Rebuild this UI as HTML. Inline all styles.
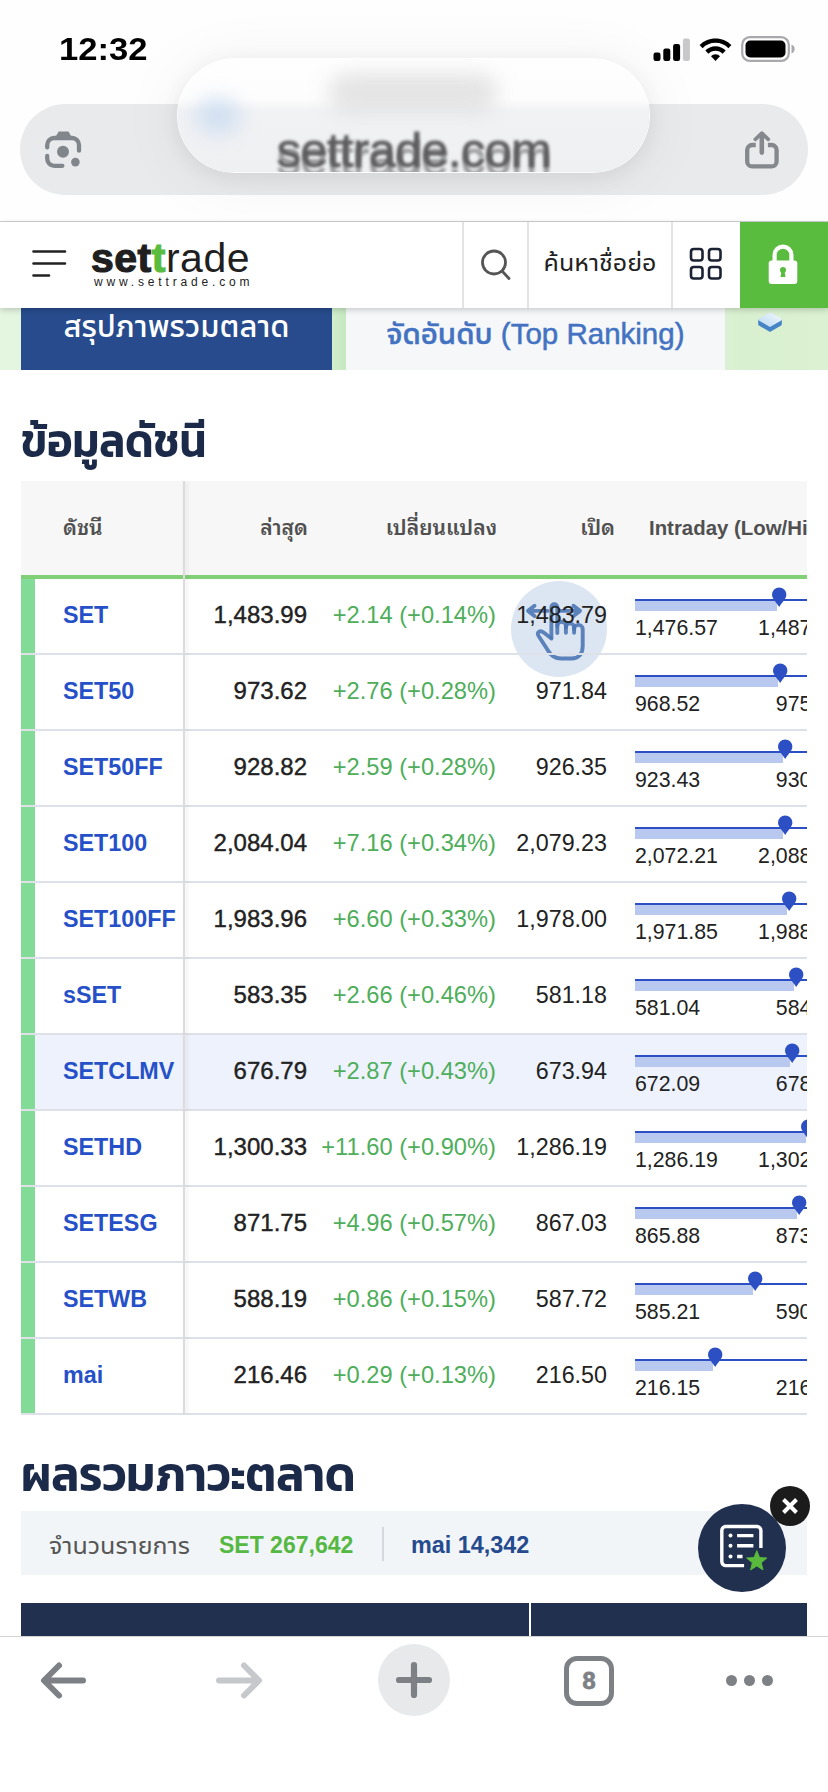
<!DOCTYPE html>
<html lang="th">
<head>
<meta charset="utf-8">
<title>settrade</title>
<style>
html,body{margin:0;padding:0;}
body{width:828px;height:1792px;overflow:hidden;position:relative;background:#fff;
 font-family:"Liberation Sans","Noto Sans Thai","Sarabun","Loma",sans-serif;color:#222;}
.abs{position:absolute;}
.th{font-family:"Liberation Sans","Noto Sans Thai UI","Noto Sans Thai","Sarabun","Loma",sans-serif;}
.thl{font-family:"Liberation Sans","Noto Sans Thai Looped","Sarabun","Noto Sans Thai","Loma",sans-serif;}
.thh{font-family:"Liberation Sans","Kanit","Prompt","Noto Sans Thai","Loma",sans-serif;}
/* ---------- browser chrome top ---------- */
#chrome-top{left:0;top:0;width:828px;height:221px;background:#fefefe;border-bottom:1px solid #cfcfd2;}
#time{left:59px;top:31px;font-size:30.5px;font-weight:700;color:#000;line-height:36px;transform:scaleX(1.135);transform-origin:0 50%;white-space:nowrap;}
#urlbar{left:20px;top:104px;width:788px;height:91px;border-radius:46px;background:#e9eaec;}
#glass{left:178px;top:59px;width:471px;height:113px;border-radius:57px;overflow:hidden;
 background:linear-gradient(#fefefe 0,#fdfdfd 40px,#f1f2f4 52px,#eff0f2 100%);
 box-shadow:0 0 0 1px rgba(255,255,255,.9),0 4px 22px rgba(0,0,0,.075),0 6px 60px 10px rgba(0,0,0,.045);}
/* ---------- site header ---------- */
#hdr{left:0;top:222px;width:828px;height:86px;background:#fff;box-shadow:0 2px 6px rgba(0,0,0,.18);z-index:5;}
.vdiv{top:0;width:2px;height:86px;background:#e3e3e3;}
#lockbox{left:740px;top:0;width:88px;height:86px;background:#5abc3e;}

.gt{left:0;width:472px;text-align:center;font-size:48.500px;line-height:56px;color:#5d5d5f;filter:blur(1.600px);letter-spacing:-0.500px;-webkit-text-stroke:1px #5d5d5f;}
#logo{left:91px;top:8px;font-size:41px;line-height:56px;color:#1f1f1f;letter-spacing:0.500px;white-space:nowrap;}
#logo b{font-weight:700;-webkit-text-stroke:1.200px #1f1f1f;}
#logo b.g{color:#5abc3e;-webkit-text-stroke:1.200px #5abc3e;}
#logosub{left:94px;top:53px;font-size:12px;line-height:14px;letter-spacing:3.830px;color:#222;white-space:nowrap;}
#srch{left:529px;top:0;width:142px;text-align:center;font-size:25px;line-height:80px;color:#222;white-space:nowrap;overflow:hidden;}
/* ---------- tabs band ---------- */
#band{left:0;top:308px;width:828px;height:62px;background:linear-gradient(90deg,#e4f5e0 0,#e0f3da 700px,#d9f0d0 740px,#dbf1d2 100%);}
#tab1{left:21px;top:0;width:311px;height:62px;background:#274b8c;color:#fff;font-size:31px;font-weight:500;text-align:center;line-height:38px;white-space:nowrap;overflow:hidden;}
#tab2{left:346px;top:0;width:379px;height:62px;background:#f5f7f8;color:#4272c1;font-size:29.500px;font-weight:500;-webkit-text-stroke:.500px #4272c1;text-align:center;line-height:52px;white-space:nowrap;overflow:hidden;}
/* ---------- headings ---------- */
.h2{left:21px;font-size:46px;font-weight:600;color:#1c2a4a;white-space:nowrap;line-height:56px;}
/* ---------- table ---------- */
#tbl{left:21px;top:481px;width:786px;height:934px;overflow:hidden;}
#thead{left:0;top:0;width:786px;height:94px;background:#f7f7f7;}
#thead div{position:absolute;top:0;line-height:94px;font-size:21px;font-weight:600;color:#505050;white-space:nowrap;}
#gline{left:0;top:94px;width:786px;height:4px;background:#81d078;}
.row{position:absolute;left:0;width:786px;height:76px;border-bottom:2px solid #dfe1e8;box-sizing:border-box;background:transparent;}
.row.hl{background:#edf2fc;}
.row .gs{position:absolute;left:0;top:0;width:14px;height:74px;background:#82dc98;}
.row .nm{position:absolute;left:42px;top:0;line-height:72px;font-size:23.300px;font-weight:700;color:#2650c8;white-space:nowrap;}
.row .last{position:absolute;right:500px;top:0;line-height:72px;font-size:24px;color:#222;white-space:nowrap;-webkit-text-stroke:.4px #222;}
.row .chg{position:absolute;right:311px;top:0;line-height:72px;font-size:23.700px;color:#4eae5b;white-space:nowrap;}
.row .opn{position:absolute;right:200px;top:0;line-height:72px;font-size:23.300px;color:#222;white-space:nowrap;}
.row .intr{position:absolute;left:614px;top:0;width:206px;height:74px;}
.intr .ln{position:absolute;left:0;top:20px;width:206px;height:2px;background:#2c4fc4;}
.intr .bar{position:absolute;left:0;top:22px;height:10px;background:#b9c8ee;}
.intr .pin{position:absolute;top:8px;width:16.400px;height:20.500px;margin-left:-8.200px;}
.intr .lo{position:absolute;left:0;top:37px;font-size:21.300px;line-height:24px;color:#222;}
.intr .hi{position:absolute;right:0;top:37px;font-size:21.300px;line-height:24px;color:#222;}
#coldiv{left:162px;top:0;width:2px;height:934px;background:#dcdcdc;box-shadow:2px 0 4px rgba(0,0,0,.10);}
/* ---------- summary ---------- */
#sum{left:21px;top:1511px;width:786px;height:64px;background:#f2f5f8;}
#sum div{position:absolute;top:0;line-height:68px;white-space:nowrap;}
#navy{left:21px;top:1603px;width:786px;height:34px;background:#22304f;}

#fab{left:698px;top:1504px;width:88px;height:88px;border-radius:44px;background:#22304f;z-index:8;}
#fabx{left:770px;top:1486px;width:40px;height:40px;border-radius:20px;background:#1b1b1b;z-index:8;}
#touch{left:490px;top:100px;width:96px;height:96px;border-radius:48px;background:#dce5f2;}
/* ---------- bottom bar ---------- */
#bot{left:0;top:1636px;width:828px;height:156px;background:#fff;border-top:1px solid #d2d2d4;z-index:9;}
</style>
</head>
<body>
<div id="chrome-top" class="abs">
  <div id="time" class="abs">12:32</div>
  <!-- signal -->
  <svg class="abs" style="left:653px;top:36px" width="38" height="26" viewBox="0 0 38 26">
    <rect x="0.500" y="16.500" width="7" height="8.500" rx="2.200" fill="#000"/>
    <rect x="10.300" y="12.500" width="7" height="12.500" rx="2.200" fill="#000"/>
    <rect x="20.100" y="8" width="7" height="17" rx="2.200" fill="#000"/>
    <rect x="29.900" y="2.500" width="7" height="22.500" rx="2.200" fill="#c8c8cb"/>
  </svg>
  <!-- wifi -->
  <svg class="abs" style="left:699px;top:37px" width="33" height="25" viewBox="0 0 33 25">
    <path d="M16.500 1.500C10.200 1.500 4.600 4 0.600 8.100L3.600 11.200C6.900 7.800 11.400 5.800 16.500 5.800S26.100 7.800 29.400 11.200L32.400 8.100C28.400 4 22.800 1.500 16.500 1.500Z" fill="#000"/>
    <path d="M16.500 9.300C12.500 9.300 8.900 10.900 6.300 13.600L9.400 16.800C11.200 14.900 13.700 13.700 16.500 13.700S21.800 14.900 23.600 16.800L26.700 13.600C24.100 10.900 20.500 9.300 16.500 9.300Z" fill="#000"/>
    <path d="M16.500 17.200C14.700 17.200 13.100 17.900 12 19.200L16.500 23.900L21 19.200C19.900 17.900 18.300 17.200 16.500 17.200Z" fill="#000"/>
  </svg>
  <!-- battery -->
  <svg class="abs" style="left:741px;top:36px" width="56" height="26" viewBox="0 0 56 26">
    <rect x="1.200" y="1.200" width="46.600" height="23.600" rx="7.500" fill="none" stroke="#a9a9ad" stroke-width="2.200"/>
    <rect x="4.500" y="4.500" width="40" height="17" rx="4.800" fill="#000"/>
    <path d="M50.500 8.500v9c2-0.700 3.200-2.400 3.200-4.500s-1.200-3.800-3.200-4.500z" fill="#a9a9ad"/>
  </svg>
  <div id="urlbar" class="abs">
    <!-- lens icon -->
    <svg class="abs" style="left:20px;top:21px" width="50" height="50" viewBox="40 125 50 50" fill="none" stroke="#80868b" stroke-width="4.300" stroke-linecap="round" stroke-linejoin="round">
      <path d="M47.200 147.400V145a7 7 0 0 1 7-7H72a7 7 0 0 1 7 7v5.700"/>
      <path d="M56.400 136.800L59 132.300H68.200L70.600 136.800Z" fill="#80868b" stroke-width="1.400"/>
      <path d="M47.200 156v2.800a7 7 0 0 0 7 7h8.200"/>
      <circle cx="63" cy="151.700" r="6" fill="#80868b" stroke="none"/>
      <circle cx="75.400" cy="162.100" r="4.300" fill="#80868b" stroke="none"/>
    </svg>
    <!-- share icon -->
    <svg class="abs" style="left:720px;top:21px" width="50" height="50" viewBox="740 125 50 50" fill="none" stroke="#85888d" stroke-width="4.300" stroke-linejoin="round">
      <path d="M755.800 145H752.200a5 5 0 0 0-5 5V161.400a5 5 0 0 0 5 5H771.600a5 5 0 0 0 5-5V150a5 5 0 0 0-5-5H767.900"/>
      <path d="M761.800 134.500V152.600" stroke-width="4.600" stroke-linecap="round"/>
      <path d="M755.300 139.300L761.800 133.200L768.300 139.300" stroke-width="3.700" stroke-linecap="round"/>
    </svg>
  </div>
  <div id="glass" class="abs">
    <div class="abs" style="left:150px;top:14px;width:170px;height:40px;border-radius:20px;background:#dcdcdd;filter:blur(10px);opacity:.75"></div>
    <div class="abs" style="left:18px;top:40px;width:44px;height:34px;border-radius:20px;background:#c9dbf1;filter:blur(10px);opacity:.8;"></div>
    <div class="abs gt" style="top:63px;">settrade.com</div>
    <div class="abs gt" style="top:71px;opacity:.55">settrade.com</div>
  </div>
</div>
<div id="hdr" class="abs">
  <svg class="abs" style="left:32px;top:27px" width="36" height="30" viewBox="0 0 36 30" fill="none" stroke="#222" stroke-width="2.600" stroke-linecap="round">
    <path d="M1.500 2.500H33M1.500 14.500H33M1.500 26.500H17"/>
  </svg>
  <div id="logo" class="abs"><b>set</b><b class="g">t</b>rade</div>
  <div id="logosub" class="abs">www.settrade.com</div>
  <div class="abs vdiv" style="left:462px"></div>
  <svg class="abs" style="left:478px;top:25px" width="36" height="36" viewBox="0 0 36 36" fill="none" stroke="#555" stroke-width="2.800" stroke-linecap="round">
    <circle cx="16" cy="15.500" r="11.500"/><path d="M24.500 24.500L31 31.500"/>
  </svg>
  <div class="abs vdiv" style="left:527px"></div>
  <div id="srch" class="abs th">ค้นหาชื่อย่อ</div>
  <div class="abs vdiv" style="left:671px"></div>
  <svg class="abs" style="left:689px;top:25px" width="34" height="34" viewBox="0 0 34 34" fill="none" stroke="#1b2233" stroke-width="2.600">
    <rect x="2" y="2" width="11.500" height="11.500" rx="2.800"/><rect x="20" y="2" width="11.500" height="11.500" rx="2.800"/>
    <rect x="2" y="20" width="11.500" height="11.500" rx="2.800"/><rect x="20" y="20" width="11.500" height="11.500" rx="2.800"/>
  </svg>
  <div id="lockbox" class="abs">
    <svg class="abs" style="left:26px;top:20px" width="34" height="44" viewBox="0 0 34 44">
      <path d="M8.600 19V13a8.400 8.400 0 0 1 16.800 0V19" fill="none" stroke="#fff" stroke-width="4.200"/>
      <rect x="2.700" y="18.500" width="28.600" height="23.500" rx="3" fill="#fff"/>
      <circle cx="17" cy="28" r="3" fill="#5abc3e"/><path d="M15.500 29h3l1 6h-5z" fill="#5abc3e"/>
    </svg>
  </div>
</div>
<div id="band" class="abs">
  <div id="tab1" class="abs th">สรุปภาพรวมตลาด</div>
  <div class="abs" style="left:332px;top:0;width:14px;height:62px;background:linear-gradient(90deg,#d3eecd,#c4e8bf);"></div>
  <div id="tab2" class="abs th">จัดอันดับ (Top Ranking)</div>
  <svg class="abs" style="left:757px;top:3px" width="26" height="24" viewBox="0 0 26 24">
    <defs><linearGradient id="dg" x1="0" y1="1" x2="1" y2="0"><stop offset="0" stop-color="#b9d9f2"/><stop offset="1" stop-color="#f4f9fd"/></linearGradient></defs>
    <path d="M1.200 8.500L13 15.500L24.800 8.500V13.200a1.500 1.500 0 0 1-.7 1.200L13.800 20.600a1.600 1.600 0 0 1-1.600 0L1.900 14.400a1.500 1.500 0 0 1-.7-1.200Z" fill="#4584c6"/>
    <path d="M12.200 1.400a1.600 1.600 0 0 1 1.600 0L24.200 7.600a1 1 0 0 1 0 1.800L13.800 15.600a1.600 1.600 0 0 1-1.600 0L1.800 9.400a1 1 0 0 1 0-1.800Z" fill="url(#dg)"/>
  </svg>
</div>
<div class="abs h2 thh" style="top:413px;font-size:47.500px;transform:scaleX(.905);transform-origin:0 50%;">ข้อมูลดัชนี</div>
<div id="tbl" class="abs">
<div id="thead" class="abs thl"><div style="left:42px">ดัชนี</div><div style="right:499px">ล่าสุด</div><div style="right:310px">เปลี่ยนแปลง</div><div style="right:192px">เปิด</div><div style="left:628px;font-size:20.400px;">Intraday (Low/High)</div></div>
<div id="gline" class="abs"></div>
<div id="touch" class="abs">
  <svg class="abs" style="left:0;top:0" width="96" height="96" viewBox="0 0 96 96" fill="none" stroke="#4a74b3" stroke-opacity=".88" stroke-width="3.900" stroke-linecap="round" stroke-linejoin="round">
    <path d="M18 29.900H36.500M23.500 24.800L17 29.900L23.500 35"/>
    <path d="M50 29.900H68M62.500 24.800L69 29.900L62.500 35"/>
    <path d="M40.400 56.500V26.200a2.950 2.950 0 0 1 5.900 0V52"/>
    <path d="M46.300 45a4.300 4.300 0 0 1 8.600 0V51.800"/>
    <path d="M54.900 46.500a4.100 4.100 0 0 1 8.200 0V51.800"/>
    <path d="M63.100 48.200a4.300 4.300 0 0 1 8.600 0V65c0 8.500-4.500 12.500-11 12.500H50c-6 0-10-2.500-13-8L27.300 54.500c-1.600-3.400 2.200-5.600 5-3.300L40.400 57.500"/>
  </svg>
</div>
<div class="row" style="top:98px"><div class="gs"></div><div class="nm">SET</div><div class="last">1,483.99</div><div class="chg">+2.14 (+0.14%)</div><div class="opn">1,483.79</div><div class="intr"><div class="ln"></div><div class="bar" style="width:142px"></div><svg class="pin" style="left:144px" viewBox="0 0 16 20"><path d="M8 0.5a7 7 0 0 1 7 7c0 3.6-3.6 6.6-7 12c-3.400-5.400-7-8.400-7-12a7 7 0 0 1 7-7z" fill="#2c4fc4"/></svg><div class="lo">1,476.57</div><div class="hi">1,487.96</div></div></div>
<div class="row" style="top:174px"><div class="gs"></div><div class="nm">SET50</div><div class="last">973.62</div><div class="chg">+2.76 (+0.28%)</div><div class="opn">971.84</div><div class="intr"><div class="ln"></div><div class="bar" style="width:143px"></div><svg class="pin" style="left:145px" viewBox="0 0 16 20"><path d="M8 0.5a7 7 0 0 1 7 7c0 3.6-3.6 6.6-7 12c-3.400-5.400-7-8.400-7-12a7 7 0 0 1 7-7z" fill="#2c4fc4"/></svg><div class="lo">968.52</div><div class="hi">975.60</div></div></div>
<div class="row" style="top:250px"><div class="gs"></div><div class="nm">SET50FF</div><div class="last">928.82</div><div class="chg">+2.59 (+0.28%)</div><div class="opn">926.35</div><div class="intr"><div class="ln"></div><div class="bar" style="width:148px"></div><svg class="pin" style="left:150px" viewBox="0 0 16 20"><path d="M8 0.5a7 7 0 0 1 7 7c0 3.6-3.6 6.6-7 12c-3.400-5.400-7-8.400-7-12a7 7 0 0 1 7-7z" fill="#2c4fc4"/></svg><div class="lo">923.43</div><div class="hi">930.55</div></div></div>
<div class="row" style="top:326px"><div class="gs"></div><div class="nm">SET100</div><div class="last">2,084.04</div><div class="chg">+7.16 (+0.34%)</div><div class="opn">2,079.23</div><div class="intr"><div class="ln"></div><div class="bar" style="width:148px"></div><svg class="pin" style="left:150px" viewBox="0 0 16 20"><path d="M8 0.5a7 7 0 0 1 7 7c0 3.6-3.6 6.6-7 12c-3.400-5.400-7-8.400-7-12a7 7 0 0 1 7-7z" fill="#2c4fc4"/></svg><div class="lo">2,072.21</div><div class="hi">2,088.52</div></div></div>
<div class="row" style="top:402px"><div class="gs"></div><div class="nm">SET100FF</div><div class="last">1,983.96</div><div class="chg">+6.60 (+0.33%)</div><div class="opn">1,978.00</div><div class="intr"><div class="ln"></div><div class="bar" style="width:152px"></div><svg class="pin" style="left:154px" viewBox="0 0 16 20"><path d="M8 0.5a7 7 0 0 1 7 7c0 3.6-3.6 6.6-7 12c-3.400-5.400-7-8.400-7-12a7 7 0 0 1 7-7z" fill="#2c4fc4"/></svg><div class="lo">1,971.85</div><div class="hi">1,988.38</div></div></div>
<div class="row" style="top:478px"><div class="gs"></div><div class="nm">sSET</div><div class="last">583.35</div><div class="chg">+2.66 (+0.46%)</div><div class="opn">581.18</div><div class="intr"><div class="ln"></div><div class="bar" style="width:159px"></div><svg class="pin" style="left:161px" viewBox="0 0 16 20"><path d="M8 0.5a7 7 0 0 1 7 7c0 3.6-3.6 6.6-7 12c-3.400-5.400-7-8.400-7-12a7 7 0 0 1 7-7z" fill="#2c4fc4"/></svg><div class="lo">581.04</div><div class="hi">584.05</div></div></div>
<div class="row hl" style="top:554px"><div class="gs"></div><div class="nm">SETCLMV</div><div class="last">676.79</div><div class="chg">+2.87 (+0.43%)</div><div class="opn">673.94</div><div class="intr"><div class="ln"></div><div class="bar" style="width:155px"></div><svg class="pin" style="left:157px" viewBox="0 0 16 20"><path d="M8 0.5a7 7 0 0 1 7 7c0 3.6-3.6 6.6-7 12c-3.400-5.400-7-8.400-7-12a7 7 0 0 1 7-7z" fill="#2c4fc4"/></svg><div class="lo">672.09</div><div class="hi">678.01</div></div></div>
<div class="row" style="top:630px"><div class="gs"></div><div class="nm">SETHD</div><div class="last">1,300.33</div><div class="chg">+11.60 (+0.90%)</div><div class="opn">1,286.19</div><div class="intr"><div class="ln"></div><div class="bar" style="width:171px"></div><svg class="pin" style="left:173px" viewBox="0 0 16 20"><path d="M8 0.5a7 7 0 0 1 7 7c0 3.6-3.6 6.6-7 12c-3.400-5.400-7-8.400-7-12a7 7 0 0 1 7-7z" fill="#2c4fc4"/></svg><div class="lo">1,286.19</div><div class="hi">1,302.25</div></div></div>
<div class="row" style="top:706px"><div class="gs"></div><div class="nm">SETESG</div><div class="last">871.75</div><div class="chg">+4.96 (+0.57%)</div><div class="opn">867.03</div><div class="intr"><div class="ln"></div><div class="bar" style="width:162px"></div><svg class="pin" style="left:164px" viewBox="0 0 16 20"><path d="M8 0.5a7 7 0 0 1 7 7c0 3.6-3.6 6.6-7 12c-3.400-5.400-7-8.400-7-12a7 7 0 0 1 7-7z" fill="#2c4fc4"/></svg><div class="lo">865.88</div><div class="hi">873.20</div></div></div>
<div class="row" style="top:782px"><div class="gs"></div><div class="nm">SETWB</div><div class="last">588.19</div><div class="chg">+0.86 (+0.15%)</div><div class="opn">587.72</div><div class="intr"><div class="ln"></div><div class="bar" style="width:118px"></div><svg class="pin" style="left:120px" viewBox="0 0 16 20"><path d="M8 0.5a7 7 0 0 1 7 7c0 3.6-3.6 6.6-7 12c-3.400-5.400-7-8.400-7-12a7 7 0 0 1 7-7z" fill="#2c4fc4"/></svg><div class="lo">585.21</div><div class="hi">590.10</div></div></div>
<div class="row" style="top:858px"><div class="gs"></div><div class="nm">mai</div><div class="last">216.46</div><div class="chg">+0.29 (+0.13%)</div><div class="opn">216.50</div><div class="intr"><div class="ln"></div><div class="bar" style="width:78px"></div><svg class="pin" style="left:80px" viewBox="0 0 16 20"><path d="M8 0.5a7 7 0 0 1 7 7c0 3.6-3.6 6.6-7 12c-3.400-5.400-7-8.400-7-12a7 7 0 0 1 7-7z" fill="#2c4fc4"/></svg><div class="lo">216.15</div><div class="hi">216.88</div></div></div>
<div id="coldiv" class="abs"></div>
</div>
<div class="abs h2 thh" style="top:1446px;font-size:48.500px;transform:scaleX(.957);transform-origin:0 50%;">ผลรวมภาวะตลาด</div>
<div id="sum" class="abs">
  <div class="th" style="left:28px;font-size:25px;color:#555;">จำนวนรายการ</div>
  <div style="left:198px;font-size:23px;font-weight:700;color:#55b843;">SET 267,642</div>
  <div style="left:361px;top:16px;width:2px;height:34px;background:#d5d9de;"></div>
  <div style="left:390px;font-size:23.400px;font-weight:700;color:#254a8e;">mai 14,342</div>
</div>
<div id="navy" class="abs"><div class="abs" style="left:508px;top:0;width:2px;height:34px;background:#fff;"></div></div>
<!-- floating button -->
<div id="fab" class="abs">
  <svg class="abs" style="left:0;top:0" width="88" height="88" viewBox="0 0 88 88" fill="none" stroke="#fff" stroke-width="3.400">
    <path d="M62.900 44V26.500a4 4 0 0 0-4-4H27.800a4 4 0 0 0-4 4V57.600a4 4 0 0 0 4 4H46.100"/>
    <path d="M39.100 31.600H55.400M39.100 41.700H55.400M39.100 52.500H44.500"/>
    <circle cx="32.500" cy="31.600" r="2" fill="#fff" stroke="none"/><circle cx="32.500" cy="41.700" r="2" fill="#fff" stroke="none"/><circle cx="32.500" cy="52.500" r="2" fill="#fff" stroke="none"/>
    <path d="M58.8 46.7L61.5 53.6L68.9 54.0L63.2 58.7L65.0 65.9L58.8 61.9L52.6 65.9L54.4 58.7L48.7 54.0L56.1 53.6Z" fill="#59b93d" stroke="#59b93d" stroke-width="1" stroke-linejoin="round"/>
  </svg>
</div>
<div id="fabx" class="abs">
  <svg class="abs" style="left:10px;top:10px" width="20" height="20" viewBox="0 0 20 20" stroke="#fff" stroke-width="4" stroke-linecap="butt"><path d="M3.500 3.500L16.500 16.500M16.500 3.500L3.500 16.500"/></svg>
</div>
<div id="bot" class="abs">
  <svg class="abs" style="left:38px;top:19px" width="52" height="48" viewBox="0 0 52 48" fill="none" stroke="#7d8186" stroke-width="6" stroke-linecap="round" stroke-linejoin="round">
    <path d="M45 24.500H7M21 9.500L6 24.500L21 39.500"/>
  </svg>
  <svg class="abs" style="left:213px;top:19px" width="52" height="48" viewBox="0 0 52 48" fill="none" stroke="#c6c8cb" stroke-width="6" stroke-linecap="round" stroke-linejoin="round">
    <path d="M6 24.500H45M31 9.500L46 24.500L31 39.500"/>
  </svg>
  <div class="abs" style="left:378px;top:7px;width:72px;height:72px;border-radius:36px;background:#e8e9eb;"></div>
  <svg class="abs" style="left:394px;top:23px" width="40" height="40" viewBox="0 0 40 40" fill="none" stroke="#7d8186" stroke-width="6.200" stroke-linecap="round">
    <path d="M20 5V35M5 20H35"/>
  </svg>
  <div class="abs" style="left:564px;top:19px;width:50px;height:50px;box-sizing:border-box;border:5px solid #7d8186;border-radius:13px;text-align:center;font-size:23.500px;font-weight:700;color:#7d8186;line-height:40px;-webkit-text-stroke:.800px #7d8186;">8</div>
  <div class="abs" style="left:726px;top:38px;width:11px;height:11px;border-radius:6px;background:#7d8186;box-shadow:18px 0 0 #7d8186,36px 0 0 #7d8186;"></div>
</div>

</body>
</html>
